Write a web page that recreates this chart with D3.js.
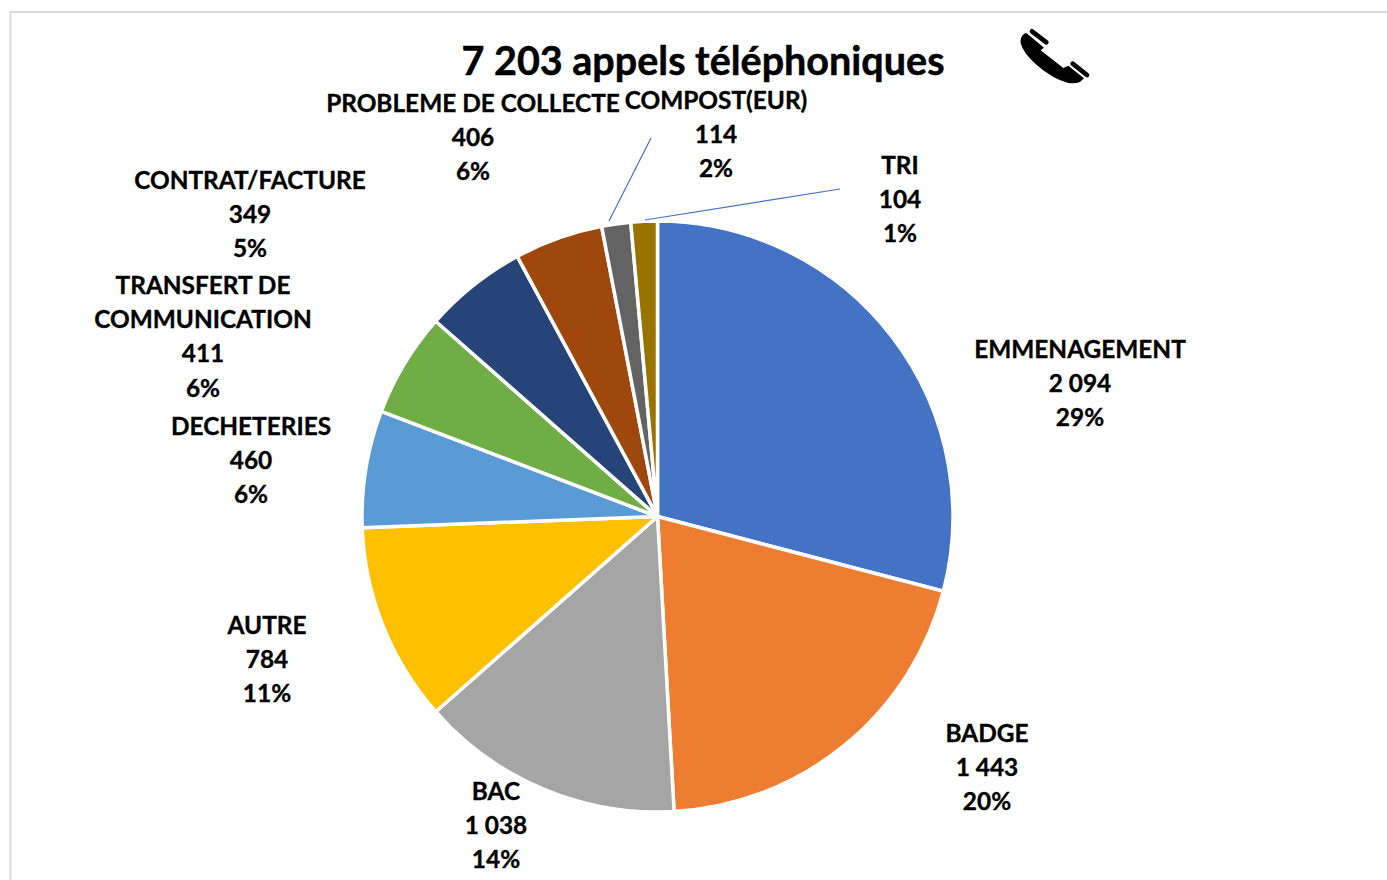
<!DOCTYPE html>
<html>
<head>
<meta charset="utf-8">
<script src="https://cdn.jsdelivr.net/npm/d3@7"></script>
<style>
    html, body { margin: 0; padding: 0; background: #fff; overflow: hidden; }
    text { font-family: Lato, "Open Sans", sans-serif; font-weight: 700; fill: #000; stroke: #000; stroke-width: 0.35px; }
</style>
</head>
<body>
<svg id="chart" width="1387" height="880"></svg>
<script>
// ---------------------- DATA ----------------------
const chartTitle = "7 203 appels téléphoniques";
const categories = ["EMMENAGEMENT", "BADGE", "BAC", "AUTRE", "DECHETERIES",
    "TRANSFERT DE COMMUNICATION", "PROBLEME DE COLLECTE", "CONTRAT/FACTURE", "COMPOST(EUR)", "TRI"];
const values = [2094, 1443, 1038, 784, 460, 411, 406, 349, 114, 104];
const valueLabels = ["2 094", "1 443", "1 038", "784", "460", "411", "406", "349", "114", "104"];
const percentLabels = ["29%", "20%", "14%", "11%", "6%", "6%", "6%", "5%", "2%", "1%"];
const sliceColors = ["#4472c4", "#ed7d31", "#a5a5a5", "#ffc000", "#5b9bd5",
    "#70ad47", "#264478", "#9e480e", "#636363", "#997300"];

// ---------------------- LAYOUT ----------------------
const width = 1387, height = 880;
const center = [657.5, 516.5], radius = 295.5;
const lineStep = 34.4, labelSize = 24.4;
// hand placed labels: centre x, y of the first line
const labelAnchors = [[1080, 348], [987, 732], [496, 790], [267, 624], [251, 425],
    [203, 284], [473, 102], [250, 179], [716, 99], [900, 164]];
const labelLines = {5: ["TRANSFERT DE", "COMMUNICATION"]};
const leaders = [[[609, 221], [651, 138]], [[645, 220], [840, 189]]];

const svg = d3.select("#chart");

// chart frame, only top and left are in the picture
svg.append("path")
    .attr("d", `M10.5 880V12H${width}`)
    .attr("fill", "none")
    .attr("stroke", "#d9d9d9")
    .attr("stroke-width", 2);

svg.append("text")
    .attr("x", 703).attr("y", 59)
    .attr("text-anchor", "middle")
    .attr("dominant-baseline", "central")
    .attr("font-size", 39.5)
    .style("stroke-width", "0.5px")
    .text(chartTitle);

// ---------------------- PIE ----------------------
const color = d3.scaleOrdinal(categories, sliceColors);
const pie = d3.pie().sort(null).value(d => d.value);
const arc = d3.arc().innerRadius(0).outerRadius(radius);
const slices = categories.map((name, i) => ({name, value: values[i]}));

svg.append("g")
    .attr("transform", `translate(${center})`)
    .selectAll("path")
    .data(pie(slices))
    .join("path")
    .attr("d", arc)
    .attr("fill", d => color(d.data.name))
    .attr("stroke", "#fff")
    .attr("stroke-width", 3.5)
    .attr("stroke-linejoin", "round");

svg.selectAll(".leader")
    .data(leaders)
    .join("path")
    .attr("class", "leader")
    .attr("d", d3.line())
    .attr("fill", "none")
    .attr("stroke", "#4472c4")
    .attr("stroke-width", 1.2);

// ---------------------- LABELS ----------------------
categories.forEach((name, i) => {
    const lines = [...(labelLines[i] || [name]), valueLabels[i], percentLabels[i]];
    const [x, y] = labelAnchors[i];
    svg.append("g")
        .selectAll("text")
        .data(lines)
        .join("text")
        .attr("x", x)
        .attr("y", (d, k) => y + k * lineStep)
        .attr("text-anchor", "middle")
        .attr("dominant-baseline", "central")
        .attr("font-size", labelSize)
        .text(d => d);
});

// ---------------------- PHONE ICON ----------------------
const phone = svg.append("g").attr("transform", "translate(980,0) scale(0.3333)");
phone.append("path")
    .attr("d", "M135 100L140 100L192 143L182 151L250 204L265 197L312 235L300 246Q285 252 265 249Q220 238 170 195Q130 160 122 130Q119 110 135 100Z")
    .attr("fill", "#000");
phone.selectAll("line")
    .data([[156, 94, 199, 127], [278, 191, 321, 225]])
    .join("line")
    .attr("x1", d => d[0]).attr("y1", d => d[1])
    .attr("x2", d => d[2]).attr("y2", d => d[3])
    .attr("stroke", "#000")
    .attr("stroke-width", 14)
    .attr("stroke-linecap", "round");
</script>
</body>
</html>
